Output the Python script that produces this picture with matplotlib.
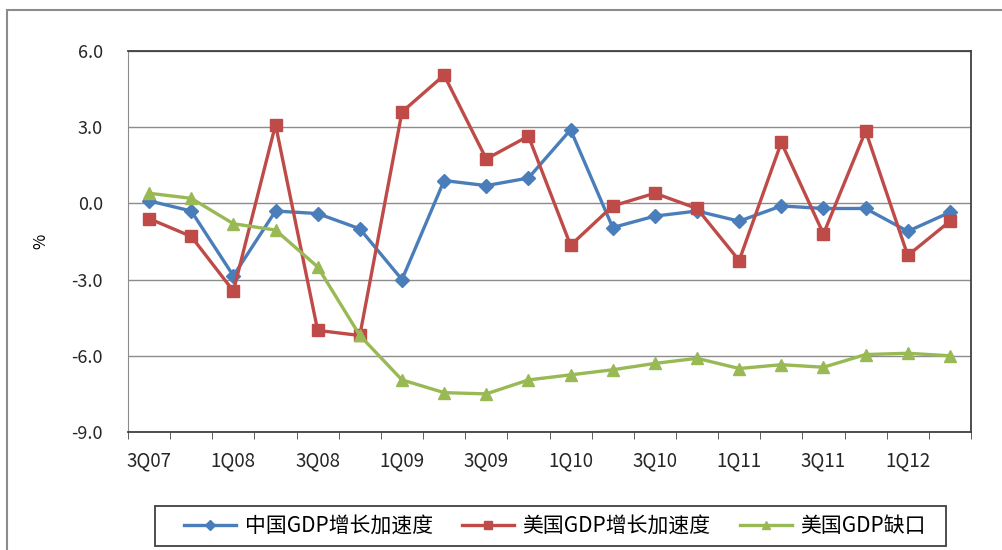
"""
中美GDP增长加速度与美国GDP缺口 (3Q07 - 2Q12)
"""

import matplotlib.pyplot as plt
from matplotlib.patches import Rectangle

plt.rcParams['font.family'] = ['Noto Sans CJK SC', 'DejaVu Sans']

quarters = ['3Q07', '4Q07', '1Q08', '2Q08', '3Q08', '4Q08', '1Q09', '2Q09',
            '3Q09', '4Q09', '1Q10', '2Q10', '3Q10', '4Q10', '1Q11', '2Q11',
            '3Q11', '4Q11', '1Q12', '2Q12']

china_accel = [0.1, -0.3, -2.85, -0.3, -0.4, -1.0, -3.0, 0.9, 0.7, 1.0,
               2.9, -0.95, -0.5, -0.3, -0.7, -0.1, -0.2, -0.2, -1.1, -0.35]

us_accel = [-0.6, -1.3, -3.45, 3.1, -5.0, -5.2, 3.6, 5.05, 1.75, 2.65,
            -1.65, -0.1, 0.4, -0.2, -2.25, 2.4, -1.2, 2.85, -2.05, -0.7]

us_gap = [0.4, 0.2, -0.8, -1.05, -2.5, -5.2, -6.95, -7.45, -7.5, -6.95,
          -6.75, -6.55, -6.3, -6.1, -6.5, -6.35, -6.45, -5.95, -5.9, -6.0]

yticks = [6.0, 3.0, 0.0, -3.0, -6.0, -9.0]

W, H = 1003, 550
fig = plt.figure(figsize=(W / 100, H / 100), dpi=100)
ax = fig.add_axes([128 / W, 1 - 432 / H, (971 - 128) / W, (432 - 51) / H])

# outer chart border
fig.patches.append(Rectangle((7 / W, -0.01), 1.0, 1 - 10 / H + 0.01,
                             transform=fig.transFigure, fill=False,
                             edgecolor='#8c8c8c', linewidth=1.5))

x = list(range(len(quarters)))
ax.plot(x, china_accel, color='#4a7ebb', linewidth=2.4, marker='D',
        markersize=7, label='中国GDP增长加速度', zorder=3)
ax.plot(x, us_accel, color='#be4b48', linewidth=2.4, marker='s',
        markersize=9, label='美国GDP增长加速度', zorder=3)
ax.plot(x, us_gap, color='#98b954', linewidth=2.4, marker='^',
        markersize=9, label='美国GDP缺口', zorder=3)

ax.set_ylim(-9, 6)
ax.set_yticks(yticks)
ax.set_yticklabels(['%.1f' % v for v in yticks])
ax.set_xlim(-0.5, len(quarters) - 0.5)
ax.set_xticks(x[::2])
ax.set_xticklabels(quarters[::2])
ax.set_xticks([i - 0.5 for i in range(len(quarters) + 1)], minor=True)

ax.grid(axis='y', color='#8c8c8c', linewidth=1)
ax.set_axisbelow(True)
ax.tick_params(axis='y', length=0, pad=18, labelsize=13, colors='#262626')
ax.tick_params(axis='x', which='major', length=0, pad=13, labelsize=13.5,
               colors='#262626')
ax.tick_params(axis='x', which='minor', length=5, color='#404040')

for side in ['top', 'right', 'bottom']:
    ax.spines[side].set_color('#404040')
    ax.spines[side].set_linewidth(1.3)
ax.spines['left'].set_color('#8c8c8c')

ax.set_ylabel('%', fontsize=12, labelpad=16)

# legend items, with its frame drawn separately
leg = fig.legend(loc='center', bbox_to_anchor=(555 / W, 1 - 526 / H),
                 ncol=3, fontsize=15, frameon=False,
                 handlelength=2.5, handletextpad=0.4, columnspacing=1.4,
                 borderpad=0, borderaxespad=0, markerscale=0.7)
fig.patches.append(Rectangle((155 / W, 1 - 546 / H), (946 - 155) / W, 40 / H,
                             transform=fig.transFigure, fill=False,
                             edgecolor='#404040', linewidth=1.3))

fig.savefig('out.png', dpi=100)
